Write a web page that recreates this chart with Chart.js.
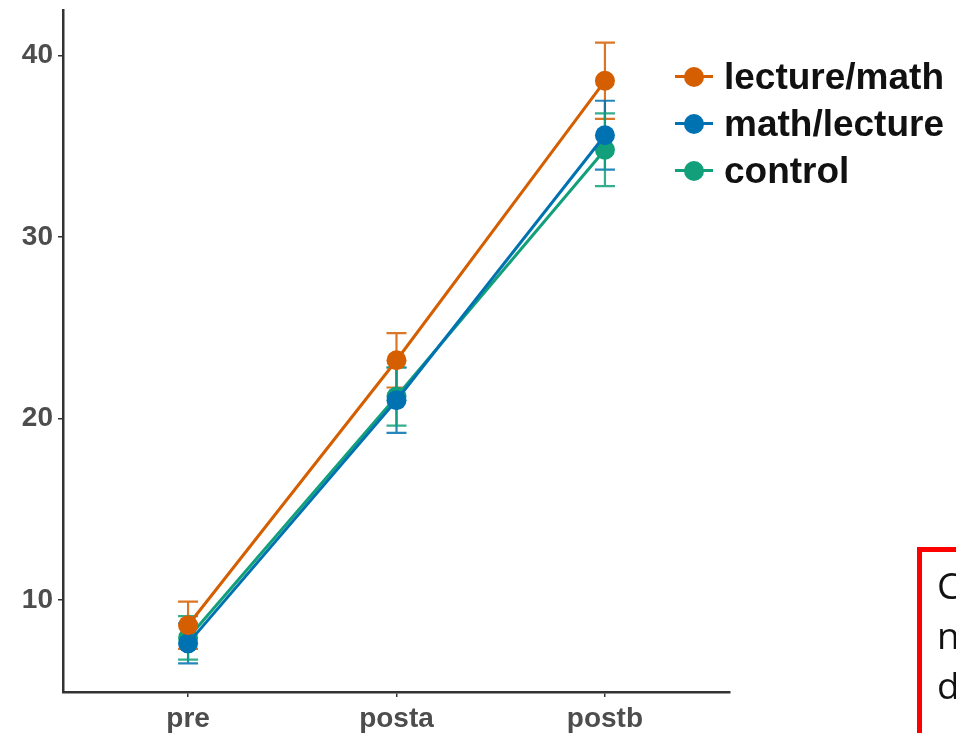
<!DOCTYPE html>
<html>
<head>
<meta charset="utf-8">
<script src="https://cdn.jsdelivr.net/npm/chart.js@4"></script>
<style>
    html, body { margin: 0; padding: 0; background: #fff; overflow: hidden; }
    #wrap { position: relative; width: 956px; height: 733px; }
    #legend { position: absolute; left: 674px; top: 53px; font: bold 37px "Liberation Sans", Arial, sans-serif; color: #111; }
    .row { display: flex; align-items: center; height: 47px; white-space: nowrap; }
    .mark { position: relative; width: 40px; height: 24px; margin-right: 10px; }
    .mark .ln { position: absolute; left: 1px; right: 1px; top: 10.5px; height: 3px; }
    .mark .dot { position: absolute; left: 10px; top: 2px; width: 20px; height: 20px; border-radius: 50%; }
    #note { position: absolute; left: 917px; top: 547px; width: 120px; height: 200px; border: 5px solid #f00; box-sizing: border-box;
            font: 37px "Open Sans", "Liberation Sans", sans-serif; color: #111; line-height: 50px; padding: 8px 0 0 15px; }
</style>
</head>
<body>
<div id="wrap">
    <canvas id="c" width="956" height="733"></canvas>
    <div id="legend"></div>
    <div id="note">C<br>n<br>d</div>
</div>
<script>
const categories = ['pre', 'posta', 'postb'];
const seriesNames = ['lecture/math', 'math/lecture', 'control'];
const seriesColors = ['#D55E00', '#0072B2', '#12A07A'];

const lectureMath = [8.6, 23.2, 38.6];
const lectureMathErr = [1.3, 1.5, 2.1];
const mathLecture = [7.6, 21.0, 35.6];
const mathLectureErr = [1.1, 1.8, 1.9];
const control = [7.9, 21.2, 34.8];
const controlErr = [1.2, 1.6, 2.0];

const yTicks = [10, 20, 30, 40];

const values = [lectureMath, mathLecture, control];
const errors = [lectureMathErr, mathLectureErr, controlErr];

// error bars drawn under lines and points
const errorBarPlugin = {
    id: 'errorBars',
    beforeDatasetsDraw: (chart) => {
        const ctx = chart.ctx;
        const xs = chart.scales.x;
        const ys = chart.scales.y;
        chart.data.datasets.forEach((ds, i) => {
            ctx.save();
            ctx.strokeStyle = ds.borderColor;
            ctx.globalAlpha = 0.85;
            ctx.lineWidth = 2.2;
            values[i].forEach((v, j) => {
                const x = xs.getPixelForValue(j + 1);
                const top = ys.getPixelForValue(v + errors[i][j]);
                const bot = ys.getPixelForValue(v - errors[i][j]);
                ctx.beginPath();
                ctx.moveTo(x, top); ctx.lineTo(x, bot);
                ctx.moveTo(x - 10, top); ctx.lineTo(x + 10, top);
                ctx.moveTo(x - 10, bot); ctx.lineTo(x + 10, bot);
                ctx.stroke();
            });
            ctx.restore();
        });
    }
};

const tickFont = { family: '"Liberation Sans", Arial, sans-serif', size: 28, weight: 'bold' };

new Chart(document.getElementById('c'), {
    type: 'line',
    plugins: [errorBarPlugin],
    data: {
        datasets: values.map((arr, i) => ({
            label: seriesNames[i],
            data: arr.map((v, j) => ({ x: j + 1, y: v })),
            borderColor: seriesColors[i],
            backgroundColor: seriesColors[i],
            borderWidth: 3,
            pointRadius: 10,
            pointBorderWidth: 0,
            tension: 0
        }))
    },
    options: {
        responsive: false,
        animation: false,
        layout: { padding: { top: 10, right: 226, left: 0, bottom: 0 } },
        plugins: { legend: { display: false }, tooltip: { enabled: false } },
        scales: {
            x: {
                type: 'linear',
                min: 0.4,
                max: 3.6,
                afterBuildTicks: (s) => { s.ticks = categories.map((_, i) => ({ value: i + 1 })); },
                afterFit: (s) => { s.height = 41; s.paddingLeft = 0; s.paddingRight = 0; },
                grid: { drawOnChartArea: false, drawTicks: true, tickLength: 5, color: '#333', lineWidth: 1.5 },
                border: { color: '#333', width: 2.5 },
                ticks: { color: '#4d4d4d', font: tickFont, padding: 5, callback: (v) => categories[v - 1] }
            },
            y: {
                min: 4.92,
                max: 42.5,
                afterBuildTicks: (s) => { s.ticks = yTicks.map(v => ({ value: v })); },
                afterFit: (s) => { s.width = 63; s.paddingTop = 0; s.paddingBottom = 0; },
                grid: { drawOnChartArea: false, drawTicks: true, tickLength: 5, color: '#333', lineWidth: 1.5 },
                border: { color: '#333', width: 2.5 },
                ticks: { color: '#4d4d4d', font: tickFont, padding: 5 }
            }
        }
    }
});

// legend built from the series arrays
const legend = document.getElementById('legend');
seriesNames.forEach((name, i) => {
    const row = document.createElement('div');
    row.className = 'row';
    row.innerHTML = `<span class="mark"><span class="ln" style="background:${seriesColors[i]}"></span>` +
        `<span class="dot" style="background:${seriesColors[i]}"></span></span><span>${name}</span>`;
    legend.appendChild(row);
});
</script>
</body>
</html>
